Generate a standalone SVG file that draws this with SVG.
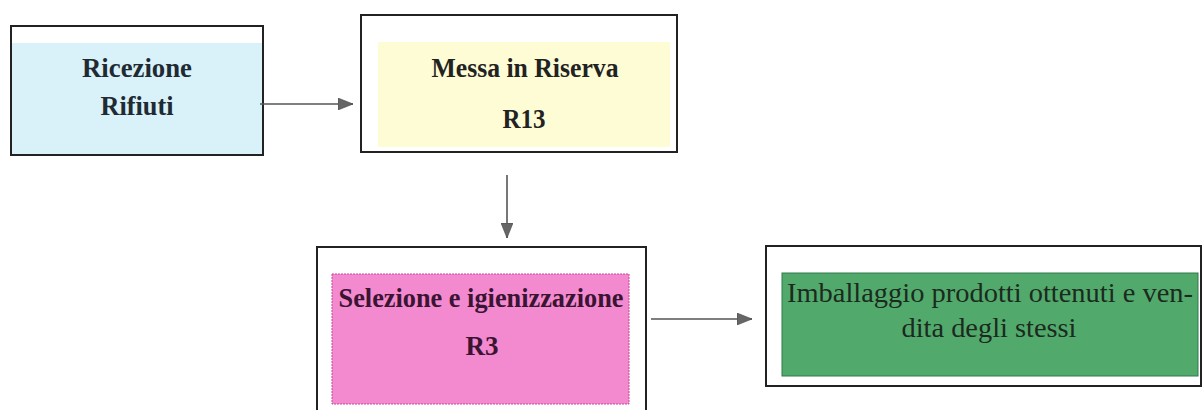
<svg xmlns="http://www.w3.org/2000/svg" width="1203" height="410" viewBox="0 0 1203 410">
<style>
.outer{fill:#ffffff;stroke:#222;stroke-width:2}
.lbl{font-family:"Liberation Serif","Times New Roman",serif;font-weight:bold;font-size:28px;text-anchor:middle}
.lbl2{font-family:"Liberation Serif","Times New Roman",serif;font-size:28px;text-anchor:middle;fill:#1c2a1e}
.conn{stroke:#555;stroke-width:1.6;fill:none}
</style>
<defs>
<marker id="ah" markerUnits="userSpaceOnUse" markerWidth="16" markerHeight="12" refX="15" refY="6" orient="auto">
<path d="M0,0 L15,6 L0,12 Z" fill="#666" stroke="#444" stroke-width="0.6"/>
</marker>
</defs>
<rect width="1203" height="410" fill="#ffffff"/>
<g id="node-ricezione">
<rect class="outer" x="11" y="26" width="252" height="129"/>
<rect x="12" y="43" width="250" height="111" fill="#d9f2f9"/>
<text class="lbl" x="137" y="77" fill="#1f2a33" textLength="110" lengthAdjust="spacingAndGlyphs">Ricezione</text>
<text class="lbl" x="137" y="115" fill="#1f2a33" textLength="73" lengthAdjust="spacingAndGlyphs">Rifiuti</text>
</g>
<g id="node-messa">
<rect class="outer" x="361" y="15" width="316" height="137"/>
<rect x="378" y="42" width="292" height="105" fill="#fefcd5"/>
<text class="lbl" x="525" y="77" fill="#222" textLength="187" lengthAdjust="spacingAndGlyphs">Messa in Riserva</text>
<text class="lbl" x="524" y="128" fill="#222" textLength="43" lengthAdjust="spacingAndGlyphs">R13</text>
</g>
<g id="node-selezione">
<rect class="outer" x="317" y="247" width="329" height="175"/>
<rect x="332" y="274" width="297" height="130" fill="#f38acf" stroke="#c9479c" stroke-width="1" stroke-dasharray="2,1"/>
<text class="lbl" x="481" y="307" fill="#3a1432" textLength="285" lengthAdjust="spacingAndGlyphs">Selezione e igienizzazione</text>
<text class="lbl" x="482" y="355" fill="#3a1432" textLength="33" lengthAdjust="spacingAndGlyphs">R3</text>
</g>
<g id="node-imballaggio">
<rect class="outer" x="766" y="246" width="435" height="140"/>
<rect x="782" y="273" width="416" height="103" fill="#52a96c" stroke="#2f7a4c" stroke-width="1"/>
<text class="lbl2" x="990" y="302" textLength="406" lengthAdjust="spacingAndGlyphs">Imballaggio prodotti ottenuti e ven-</text>
<text class="lbl2" x="989" y="337" textLength="175" lengthAdjust="spacingAndGlyphs">dita degli stessi</text>
</g>
<g id="connectors">
<line class="conn" x1="260" y1="104" x2="353" y2="104" marker-end="url(#ah)"/>
<line class="conn" x1="507" y1="175" x2="507" y2="238" marker-end="url(#ah)"/>
<line class="conn" x1="651" y1="319" x2="752" y2="319" marker-end="url(#ah)"/>
</g>
</svg>
